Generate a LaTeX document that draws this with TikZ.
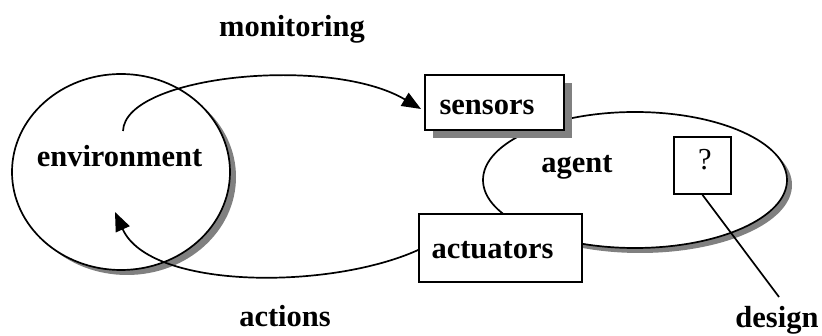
\documentclass[tikz,border=0pt]{standalone}
\usepackage{fontspec}
\setmainfont{Liberation Serif}
\usetikzlibrary{shapes.geometric,arrows.meta}
\begin{document}
\begin{tikzpicture}[x=1pt,y=-1pt,
  lbl/.style={font=\fontsize{30.5}{36}\selectfont\bfseries, inner sep=0pt, anchor=base},
  qlbl/.style={font=\fontsize{30.5}{36}\selectfont, inner sep=0pt, anchor=base},
  ln/.style={line width=1.7pt},
  shade/.style={fill=black!50, draw=none},
  boxn/.style={draw, fill=white, line width=1.7pt, inner sep=0pt},
  ell/.style={ellipse, draw, fill=white, line width=1.7pt, inner sep=0pt},
  tip/.style={-{Triangle[length=19pt,width=15pt]}}
]
\useasboundingbox (0,0) rectangle (822,336);
% environment
\node[ellipse, shade, minimum width=218pt, minimum height=196pt, inner sep=0pt] (envsh) at (127,177) {};
\node[ell, minimum width=218pt, minimum height=196pt] (env) at (121,172) {};
% agent
\node[ellipse, shade, minimum width=304pt, minimum height=136pt, inner sep=0pt] (agsh) at (640,185) {};
\node[ell, minimum width=304pt, minimum height=136pt] (agent) at (635,180) {};
% sensors
\node[shade, minimum width=139pt, minimum height=55pt, inner sep=0pt] (sensh) at (502.5,110.5) {};
\node[boxn, minimum width=139pt, minimum height=55pt] (sens) at (494.5,102.5) {};
% actuators
\node[boxn, minimum width=163pt, minimum height=68pt] (act) at (500.5,248) {};
% question box
\node[boxn, minimum width=57pt, minimum height=57pt] (q) at (702.5,165.5) {};
% labels
\node[lbl] (envT) at (119.5,167) {environment};
\node[lbl] (monT) at (292,37) {monitoring};
\node[lbl] (senT) at (487,115) {sensors};
\node[lbl] (agT) at (577,173) {agent};
\node[lbl] (actT) at (492.5,259) {actuators};
\node[qlbl] (qT) at (705,170) {?};
\node[lbl] (actionsT) at (285,327) {actions};
\node[lbl] (desT) at (777,328) {design};
% connectors
\coordinate (mstart) at (123,131);
\coordinate (mtip) at (421,109);
\coordinate (atip) at (115,212);
\coordinate (dend) at (779,297);
\draw[ln, tip] (mstart) .. controls (125,75) and (330,55) .. (mtip);
\draw[ln, tip] (act.west |- 0,250) .. controls (330,290) and (150,290) .. (atip);
\draw[ln] (q.south) -- (dend);
\end{tikzpicture}
\end{document}
